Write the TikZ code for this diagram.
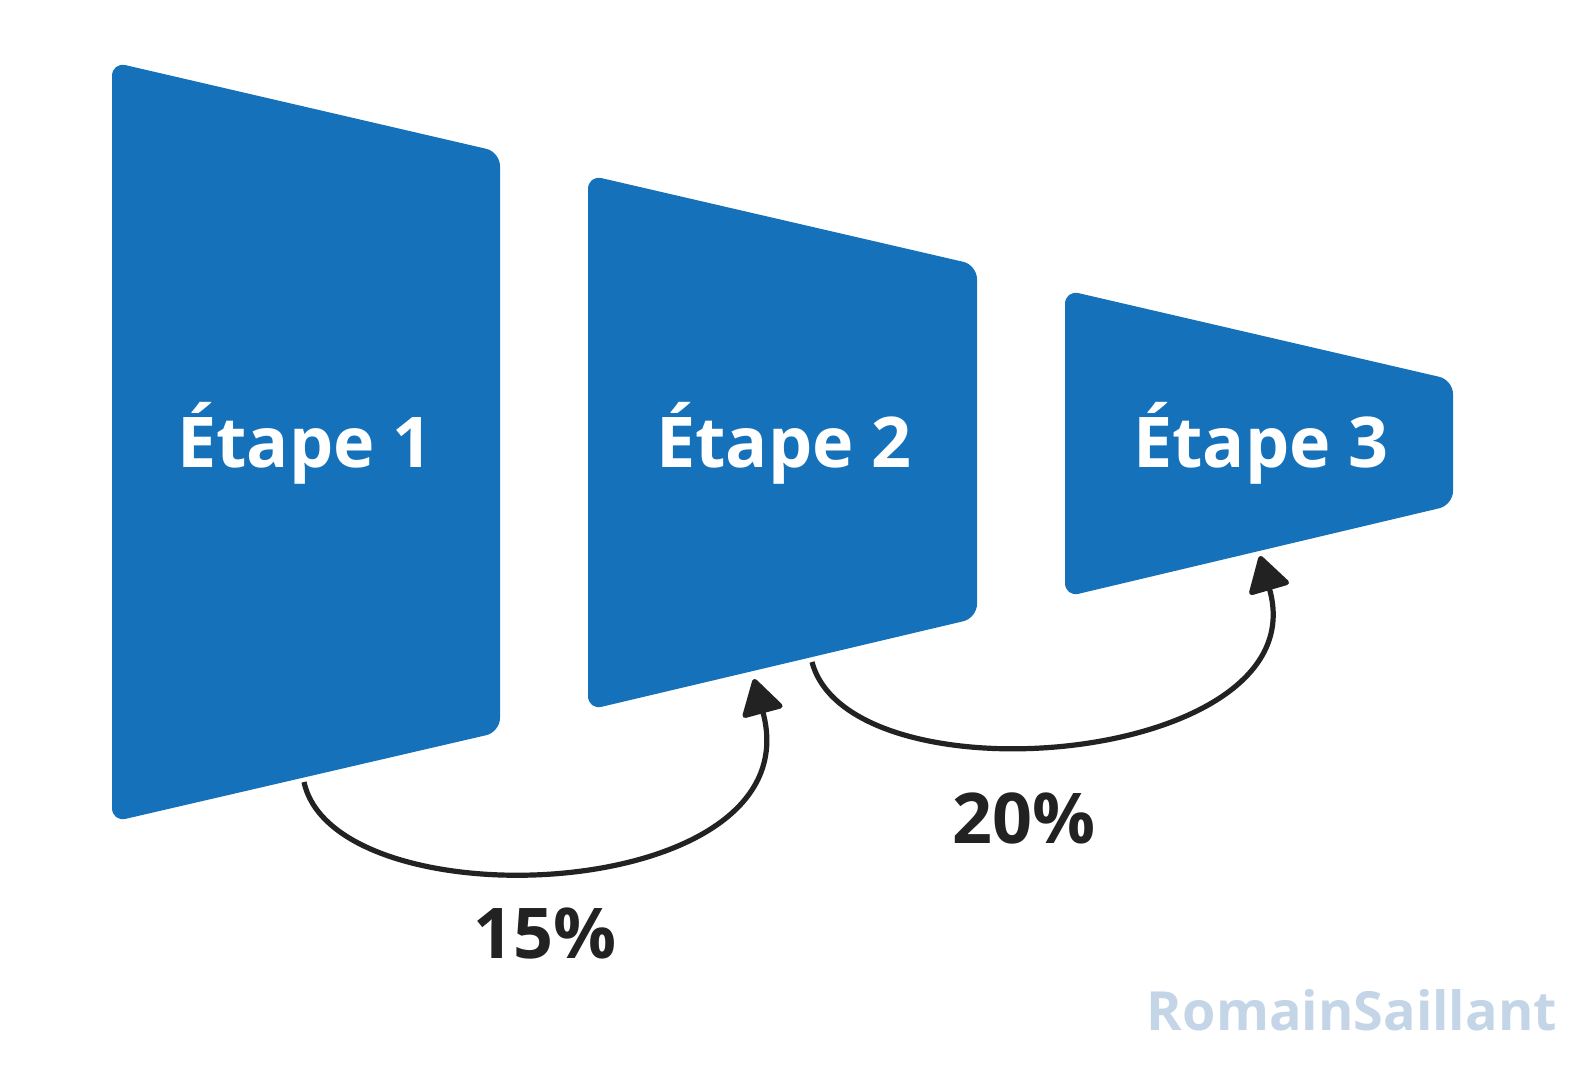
\documentclass[tikz,border=0pt]{standalone}
\usepackage{fontspec}
\setmainfont{Open Sans}
\usetikzlibrary{arrows.meta}
\definecolor{stepblue}{HTML}{1572BA}
\definecolor{ink}{HTML}{222222}
\definecolor{mark}{HTML}{C5D5E8}
\begin{document}
\begin{tikzpicture}[x=0.5pt,y=-0.5pt,
  stage/.style={fill=stepblue,rounded corners=7pt},
  stagetext/.style={text=white,font=\bfseries\fontsize{35}{40}\selectfont},
  flow/.style={draw=ink,line width=2.6pt,-{Triangle[length=19pt,width=22pt,round]}},
  pct/.style={text=ink,font=\bfseries\fontsize{35}{40}\selectfont}]
\useasboundingbox (0,0) rectangle (1584,1070);
\fill[stage] (112,62) -- (500,152) -- (500,732) -- (112,822) -- cycle;
\fill[stage] (588,175) -- (977,265) -- (977,618) -- (588,710) -- cycle;
\fill[stage] (1065,290) -- (1453,380) -- (1453,505) -- (1065,597) -- cycle;
\node[stagetext] (s1) at (305,443) {Étape 1};
\node[stagetext] (s2) at (784,443) {Étape 2};
\node[stagetext] (s3) at (1261,443) {Étape 3};
\coordinate (a1) at (304,782);
\coordinate (b1) at (754,679);
\coordinate (a2) at (812,662);
\coordinate (b2) at (1260,556);
\draw[flow] (a1) .. controls (335,925) and (815,905) .. (b1);
\draw[flow] (a2) .. controls (850,805) and (1320,765) .. (b2);
\node[pct] (p1) at (545,933) {15\%};
\node[pct] (p2) at (1024,818) {20\%};
\node[text=mark,font=\bfseries\fontsize{27}{30}\selectfont] (wm) at (1352,1010) {RomainSaillant};
\end{tikzpicture}
\end{document}
